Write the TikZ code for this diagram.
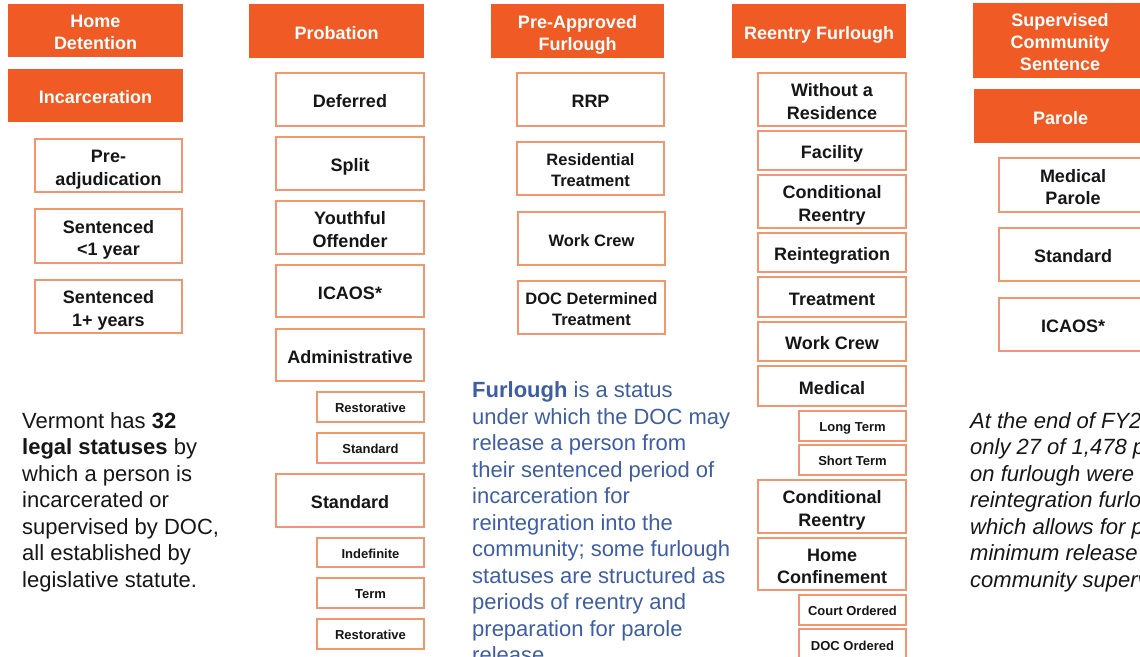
\documentclass[tikz,border=0pt]{standalone}
\usepackage{fontspec}
\setmainfont{Liberation Sans}
\definecolor{hdrorange}{RGB}{240,90,36}
\definecolor{edgeorange}{RGB}{242,150,112}
\definecolor{furblue}{RGB}{62,94,164}
\definecolor{ink}{RGB}{22,22,22}

% fixed line ascent/descent so labels sit the same way whatever their letters
\newcommand\topstrut{\rule{0pt}{1.14em}}
\newcommand\botstrut{\rule[-0.22em]{0pt}{0.22em}}

\tikzset{
  labelled/.style={align=center, inner sep=0pt},
  hdr/.style={labelled, fill=hdrorange, draw=none, text=white,
    font=\bfseries\fontsize{18}{22}\selectfont},
  sbox/.style={labelled, fill=white, draw=edgeorange, line width=1.2pt, text=ink,
    font=\bfseries\fontsize{18}{22.5}\selectfont},
  subbox/.style={sbox, font=\bfseries\fontsize{13}{15}\selectfont},
  midbox/.style={sbox, font=\bfseries\fontsize{16.5}{20.5}\selectfont},
  para/.style={anchor=north west, inner sep=0pt, align=left,
    font=\fontsize{22}{26.5}\selectfont},
}

% box placed by its corners: style, name, x1, y1, x2, y2, label
\newcommand\statusbox[7]{%
  \node[#1, minimum width={(#5-#3)*1pt}, minimum height={(#6-#4)*1pt}]
    (#2) at ({(#3+#5)/2},{(#4+#6)/2}) {\topstrut#7\botstrut};}

\begin{document}
\begin{tikzpicture}[x=1pt, y=-1pt]
\useasboundingbox (0,0) rectangle (1140,656);
\clip (0,0) rectangle (1140,656);

% Home detention / incarceration
\statusbox{hdr}{homedet}{8}{4}{183}{57}{Home\\Detention}
\statusbox{hdr}{incarc}{8}{69}{183}{122}{Incarceration}
\statusbox{sbox}{preadj}{35}{139}{182}{192}{Pre-\\adjudication}
\statusbox{sbox}{sentlt}{35}{209}{182}{263}{Sentenced\\<1 year}
\statusbox{sbox}{sentge}{35}{280}{182}{333}{Sentenced\\1+ years}

% Probation
\statusbox{hdr}{probation}{249}{4}{424}{58}{Probation}
\statusbox{sbox}{deferred}{276}{73}{424}{126}{Deferred}
\statusbox{sbox}{split}{276}{137}{424}{190}{Split}
\statusbox{sbox}{youthful}{276}{201}{424}{254}{Youthful\\Offender}
\statusbox{sbox}{icaosprob}{276}{265}{424}{317}{ICAOS*}
\statusbox{sbox}{admin}{276}{329}{424}{381}{Administrative}
\statusbox{subbox}{adminrest}{317}{392}{424}{422}{Restorative}
\statusbox{subbox}{adminstd}{317}{433}{424}{463}{Standard}
\statusbox{sbox}{standard}{276}{474}{424}{527}{Standard}
\statusbox{subbox}{indef}{317}{538}{424}{567}{Indefinite}
\statusbox{subbox}{term}{317}{578}{424}{608}{Term}
\statusbox{subbox}{stdrest}{317}{619}{424}{649}{Restorative}

% Pre-approved furlough
\statusbox{hdr}{preappr}{491}{4}{664}{58}{Pre-Approved\\Furlough}
\statusbox{sbox}{rrp}{517}{73}{664}{126}{RRP}
\statusbox{midbox}{resid}{517}{142}{664}{195}{Residential\\Treatment}
\statusbox{midbox}{workcrewpa}{518}{212}{665}{265}{Work Crew}
\statusbox{midbox}{docdet}{518}{281}{665}{334}{DOC Determined\\Treatment}

% Reentry furlough
\statusbox{hdr}{reentry}{732}{4}{906}{58}{Reentry Furlough}
\statusbox{sbox}{withoutres}{758}{73}{906}{126}{Without a\\Residence}
\statusbox{sbox}{facility}{758}{131}{906}{170}{Facility}
\statusbox{sbox}{condre}{758}{175}{906}{228}{Conditional\\Reentry}
\statusbox{sbox}{reinteg}{758}{233}{906}{272}{Reintegration}
\statusbox{sbox}{treatment}{758}{277}{906}{317}{Treatment}
\statusbox{sbox}{workcrewre}{758}{322}{906}{361}{Work Crew}
\statusbox{sbox}{medical}{758}{366}{906}{406}{Medical}
\statusbox{subbox}{longterm}{799}{411}{906}{441}{Long Term}
\statusbox{subbox}{shortterm}{799}{445}{906}{475}{Short Term}
\statusbox{sbox}{condre2}{758}{480}{906}{533}{Conditional\\Reentry}
\statusbox{sbox}{homeconf}{758}{538}{906}{590}{Home\\Confinement}
\statusbox{subbox}{courtord}{799}{595}{906}{625}{Court Ordered}
\statusbox{subbox}{docord}{799}{629}{906}{660}{DOC Ordered}

% Supervised community sentence / parole
\statusbox{hdr}{supcomm}{973}{3}{1147}{78}{Supervised\\Community\\Sentence}
\statusbox{hdr}{parole}{974}{89}{1147}{143}{Parole}
\statusbox{sbox}{medparole}{999}{158}{1147}{212}{Medical\\Parole}
\statusbox{sbox}{stdparole}{999}{228}{1147}{281}{Standard}
\statusbox{sbox}{icaospar}{999}{298}{1147}{351}{ICAOS*}

% Notes
\node[para, text=ink] (legalnote) at (22,412)
  {Vermont has \textbf{32}\\
   \textbf{legal statuses} by\\
   which a person is\\
   incarcerated or\\
   supervised by DOC,\\
   all established by\\
   legislative statute.};

\node[para, text=furblue] (furloughnote) at (472,381.5)
  {\textbf{Furlough} is a status\\
   under which the DOC may\\
   release a person from\\
   their sentenced period of\\
   incarceration for\\
   reintegration into the\\
   community; some furlough\\
   statuses are structured as\\
   periods of reentry and\\
   preparation for parole\\
   release.};

\node[para, text=ink, font=\itshape\fontsize{22}{26.5}\selectfont] (fynote) at (970,412)
  {At the end of FY2020,\\
   only 27 of 1,478 people\\
   on furlough were on\\
   reintegration furlough,\\
   which allows for pre-\\
   minimum release to\\
   community supervision.};
\end{tikzpicture}
\end{document}
